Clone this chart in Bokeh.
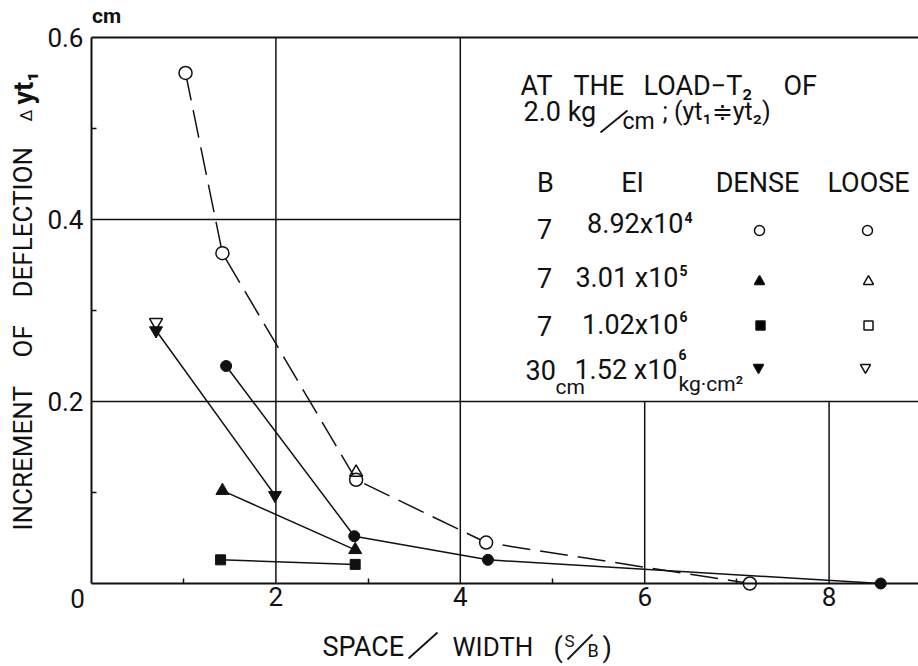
import math
from bokeh.plotting import figure
from bokeh.models import Label, FixedTicker, Range1d, Arrow
from bokeh.embed import file_html
from bokeh.resources import INLINE

# ---------------- data ----------------
loose_circle_x = [1.02, 1.42, 2.87, 4.28, 7.14]
loose_circle_y = [0.561, 0.363, 0.114, 0.045, 0.0]
dense_circle_x = [1.46, 2.85, 4.30, 8.56]
dense_circle_y = [0.239, 0.052, 0.026, 0.0]
dense_tri_x = [1.42, 2.86]
dense_tri_y = [0.102, 0.037]
loose_tri_x = [2.87]
loose_tri_y = [0.122]
dense_sq_x = [1.40, 2.86]
dense_sq_y = [0.026, 0.021]
dense_inv_x = [0.70, 1.99]
dense_inv_y = [0.278, 0.097]
loose_inv_x = [0.70]
loose_inv_y = [0.287]

x_ticks = [0, 2, 4, 6, 8]
x_minor_ticks = [1, 3, 5, 7]
y_ticks = [0, 0.2, 0.4, 0.6]
y_minor_ticks = [0.1, 0.3, 0.5]

legend_B = ["7", "7", "7", "30"]
legend_EI = ["8.92x10", "3.01 x10", "1.02x10", "1.52 x10"]
legend_EI_exp = ["4", "5", "6", "6"]
legend_dense_markers = ["circle", "triangle", "square", "inverted_triangle"]
legend_dense_fill = ["white", "black", "black", "black"]
legend_loose_markers = ["circle", "triangle", "square", "inverted_triangle"]

# ---------------- layout geometry (pixels) ----------------
W, H = 918, 666
X0, Y0 = 91, 583                        # pixel of data origin
SX, SY = 92.2, 910.0                    # pixels per data unit


def X(px):
    return (px - X0) / SX


def Y(py):
    return (Y0 - py) / SY


XMAX = X(W)
FONT = "Roboto"
INK = "#111111"

# the frame covers the whole canvas; the axes sit at the data origin
p = figure(width=W, height=H,
           x_range=Range1d(X(0), X(W)), y_range=Range1d(Y(H), Y(0)),
           output_backend="svg", toolbar_location=None,
           min_border_left=0, min_border_right=0,
           min_border_top=0, min_border_bottom=0)
p.outline_line_color = None
p.grid.visible = False
p.background_fill_color = "white"
p.border_fill_color = "white"

# ---------------- axes ----------------
p.xaxis.ticker = FixedTicker(ticks=x_ticks, minor_ticks=x_minor_ticks)
p.yaxis.ticker = FixedTicker(ticks=y_ticks, minor_ticks=y_minor_ticks)
p.xaxis.fixed_location = 0
p.yaxis.fixed_location = 0
p.xaxis.bounds = (0, XMAX)
p.yaxis.bounds = (0, 0.6)
p.xaxis.major_label_overrides = {0: ""}
p.yaxis.major_label_overrides = {0: ""}
for ax in (p.xaxis, p.yaxis):
    ax.axis_line_color = INK
    ax.axis_line_width = 2
    ax.major_tick_in = 0
    ax.major_tick_out = 0
    ax.minor_tick_in = 5
    ax.minor_tick_out = 0
    ax.minor_tick_line_color = INK
    ax.minor_tick_line_width = 1.5
    ax.major_label_text_font = FONT
    ax.major_label_text_font_size = "26px"
    ax.major_label_text_color = INK
p.xaxis.major_label_standoff = 3
p.yaxis.major_label_standoff = 8

# ---------------- grid (partial, as in the original) ----------------
grid_v_x = x_ticks[1:]
grid_v_top = [0.6, 0.6, 0.2, 0.2]
grid_h_y = y_ticks[1:]
grid_h_right = [XMAX, 4, XMAX]
p.segment(x0=grid_v_x, y0=[0] * len(grid_v_x), x1=grid_v_x, y1=grid_v_top,
          line_color=INK, line_width=1.5)
p.segment(x0=[0] * len(grid_h_y), y0=grid_h_y, x1=grid_h_right, y1=grid_h_y,
          line_color=INK, line_width=[1.5, 1.5, 2.2])

# ---------------- data ----------------
p.line(loose_circle_x, loose_circle_y, line_color=INK, line_width=1.5, line_dash="28 10")
p.line(dense_circle_x, dense_circle_y, line_color=INK, line_width=1.5)
p.line(dense_tri_x, dense_tri_y, line_color=INK, line_width=1.5)
p.line(dense_sq_x, dense_sq_y, line_color=INK, line_width=1.5)
p.line(dense_inv_x, dense_inv_y, line_color=INK, line_width=1.5)

p.scatter(loose_circle_x, loose_circle_y, marker="circle", size=13,
          fill_color="white", line_color=INK, line_width=1.5)
p.scatter(dense_circle_x, dense_circle_y, marker="circle", size=11,
          fill_color=INK, line_color=INK)
p.scatter(loose_tri_x, loose_tri_y, marker="triangle", size=13,
          fill_color=None, line_color=INK, line_width=1.5)
p.scatter(dense_tri_x, dense_tri_y, marker="triangle", size=13,
          fill_color=INK, line_color=INK)
p.scatter(dense_sq_x, dense_sq_y, marker="square", size=10,
          fill_color=INK, line_color=INK)
p.scatter(loose_inv_x, loose_inv_y, marker="inverted_triangle", size=13,
          fill_color="white", line_color=INK, line_width=1.5)
p.scatter(dense_inv_x, dense_inv_y, marker="inverted_triangle", size=13,
          fill_color=INK, line_color=INK)


# ---------------- text helper ----------------
def lab(text, px, py, size, align="left", baseline="middle", angle=0.0, style="normal"):
    p.add_layout(Label(x=X(px), y=Y(py), text=text, text_font=FONT,
                       text_font_size=f"{size}px", text_color=INK,
                       text_align=align, text_baseline=baseline,
                       angle=angle, text_font_style=style))


def stroke(px0, py0, px1, py1, width=1.8):
    p.add_layout(Arrow(x_start=X(px0), y_start=Y(py0), x_end=X(px1), y_end=Y(py1),
                       start=None, end=None, line_color=INK, line_width=width))


# axis titles and units
lab("cm", 106, 15, 21, align="center", style="bold")
lab("0", 77, 598, 26, align="center")

lab("INCREMENT", 22, 530, 26, angle=math.pi / 2)
lab("OF", 22, 357, 26, angle=math.pi / 2)
lab("DEFLECTION", 22, 297, 26, angle=math.pi / 2)
lab("Δ", 25, 121, 17, angle=math.pi / 2)
lab("yt₁", 23, 104, 27, angle=math.pi / 2, style="bold")

lab("SPACE", 322, 646, 27)
stroke(408, 658, 437, 632)
lab("WIDTH", 452, 646, 26)
lab("(", 553, 647, 27)
lab("S", 564, 640, 17)
stroke(567, 659, 592, 634)
lab("B", 587, 650, 18)
lab(")", 602, 647, 27)

# annotation block
lab("AT", 520, 85, 27)
lab("THE", 573, 85, 27)
lab("LOAD−T₂", 643, 85, 27)
lab("OF", 783, 85, 27)
lab("2.0 kg", 523, 111, 27)
stroke(600, 132, 627, 110)
lab("cm", 622, 121, 23)
lab("; (yt₁≑yt₂)", 662, 111, 25)

lab("B", 545, 182, 27, align="center")
lab("EI", 632, 182, 27, align="center")
lab("DENSE", 757, 182, 27, align="center")
lab("LOOSE", 868, 182, 27, align="center")

row_y_B = [228, 277, 325, 369]
row_y_EI = [223, 277, 324, 369]
row_EI_right = [683, 678, 678, 677]
row_exp_y = [217, 270, 316, 354]
row_marker_y = [230, 281, 325, 367]

for i in range(4):
    if legend_B[i] == "30":
        lab(legend_B[i], 525, row_y_B[i], 27)
        lab("cm", 555, 386, 21)
    else:
        lab(legend_B[i], 544, row_y_B[i], 27, align="center")
    lab(legend_EI[i], row_EI_right[i], row_y_EI[i], 27, align="right")
    lab(legend_EI_exp[i], row_EI_right[i] + 1, row_exp_y[i], 14, style="bold")
lab("kg·cm²", 678, 383, 21)

leg_dense_px = [759, 759, 760, 758]
leg_loose_px = [867, 868, 868, 865]
for i in range(4):
    p.scatter([X(leg_dense_px[i])], [Y(row_marker_y[i])], marker=legend_dense_markers[i],
              size=10 if i != 2 else 9, fill_color=legend_dense_fill[i],
              line_color=INK, line_width=1.5)
    p.scatter([X(leg_loose_px[i])], [Y(row_marker_y[i])], marker=legend_loose_markers[i],
              size=10 if i != 2 else 9, fill_color="white",
              line_color=INK, line_width=1.5)

open("out.html", "w").write(file_html(p, INLINE))
